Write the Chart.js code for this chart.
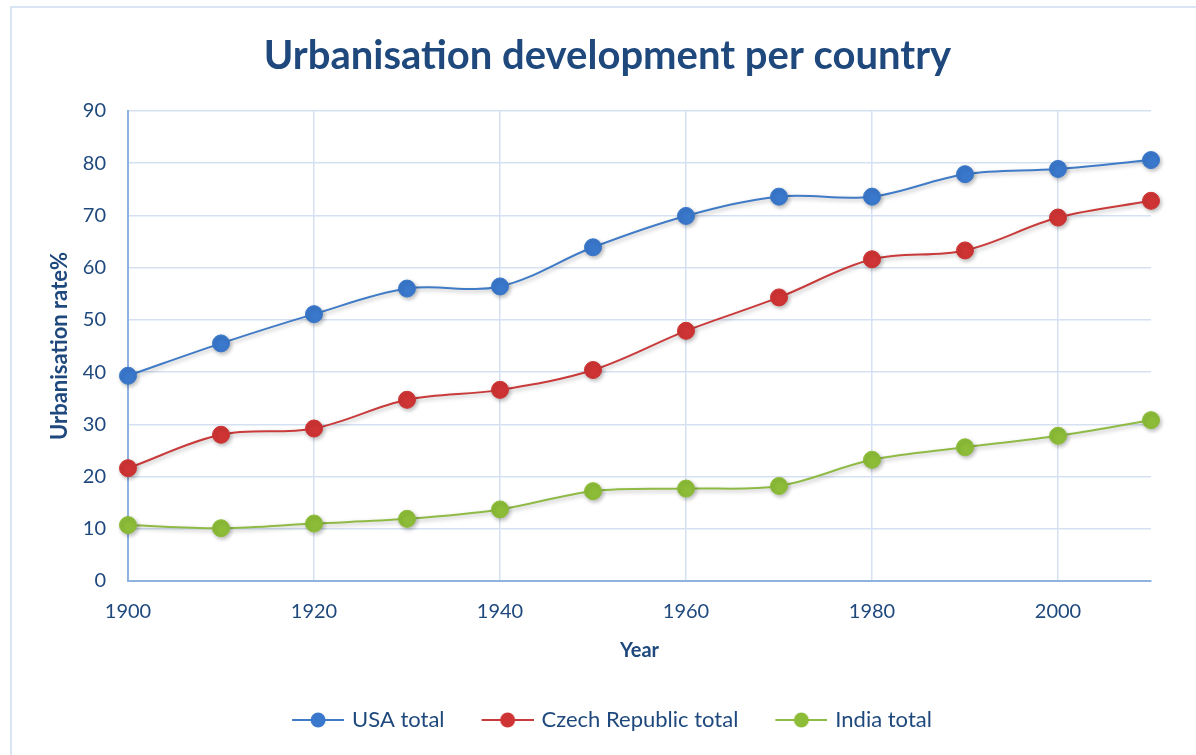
<!DOCTYPE html>
<html>
<head>
<meta charset="utf-8">
<script src="https://cdn.jsdelivr.net/npm/chart.js@4.4.0/dist/chart.umd.min.js"></script>
<style>
  html, body { margin: 0; padding: 0; background: #fff; }
  #wrap { position: relative; width: 1196px; height: 755px; overflow: hidden; }
  #frame { position: absolute; left: 10px; top: 6px; right: -10px; bottom: -10px;
           border-left: 2px solid #d9e4f4; border-top: 2px solid #d9e4f4; }
  canvas { position: absolute; left: 0; top: 0; }
</style>
</head>
<body>
<div id="wrap">
  <div id="frame"></div>
  <canvas id="c" width="1196" height="755"></canvas>
</div>
<script>
const years = [1900, 1910, 1920, 1930, 1940, 1950, 1960, 1970, 1980, 1990, 2000, 2010];
const usaTotal = [39.3, 45.5, 51.1, 56.0, 56.4, 63.9, 69.9, 73.6, 73.6, 77.9, 78.9, 80.6];
const czechTotal = [21.6, 28.0, 29.2, 34.7, 36.6, 40.4, 47.9, 54.3, 61.6, 63.3, 69.6, 72.8];
const indiaTotal = [10.7, 10.1, 11.0, 11.9, 13.7, 17.2, 17.7, 18.2, 23.2, 25.6, 27.8, 30.8];
const xTickValues = [1900, 1920, 1940, 1960, 1980, 2000];
const seriesNames = ['USA total', 'Czech Republic total', 'India total'];

const FONT = 'Lato, "Open Sans", sans-serif';
const TEXT = '#1F497D';
const GRID = '#d5e1f2';
const AXIS = '#8fb3e0';

const ICON_MARGIN = 12;
const ICON_LINE = 52;
const ICON_W = ICON_MARGIN + ICON_LINE;

function legendIcon(line, fill) {
  const c = document.createElement('canvas');
  c.width = ICON_W; c.height = 18;
  const g = c.getContext('2d');
  g.strokeStyle = line; g.lineWidth = 2;
  g.beginPath(); g.moveTo(ICON_MARGIN, 9); g.lineTo(ICON_W, 9); g.stroke();
  g.fillStyle = fill;
  g.beginPath(); g.arc(ICON_MARGIN + ICON_LINE / 2, 9, 7.5, 0, Math.PI * 2); g.fill();
  return c;
}

const styles = [
  { line: '#3f7bc6', fill: '#3a78cc' },
  { line: '#c93a3a', fill: '#cf3434' },
  { line: '#8fba45', fill: '#8dbd38' }
];
const seriesData = [usaTotal, czechTotal, indiaTotal];
const icons = styles.map(s => legendIcon(s.line, s.fill));

const datasets = seriesData.map((vals, i) => ({
  label: seriesNames[i],
  data: years.map((yr, j) => ({ x: yr, y: vals[j] })),
  borderColor: styles[i].line,
  backgroundColor: styles[i].fill,
  pointBackgroundColor: styles[i].fill,
  pointBorderColor: styles[i].fill,
  pointStyle: 'circle',
  pointRadius: 8.5,
  pointHoverRadius: 8.5,
  pointBorderWidth: 1,
  borderWidth: 2,
  tension: 0.35,
  clip: false
}));

const shadowPlugin = {
  id: 'softShadow',
  beforeDatasetsDraw(chart) {
    const ctx = chart.ctx;
    ctx.save();
    ctx.shadowColor = 'rgba(0,0,0,0.28)';
    ctx.shadowBlur = 4;
    ctx.shadowOffsetX = 1.5;
    ctx.shadowOffsetY = 2;
  },
  afterDatasetsDraw(chart) {
    chart.ctx.restore();
  }
};

new Chart(document.getElementById('c'), {
  type: 'line',
  data: { datasets },
  plugins: [shadowPlugin],
  options: {
    responsive: false,
    animation: false,
    devicePixelRatio: 1,
    layout: { padding: { left: 64, right: 45, top: 0, bottom: 14 } },
    plugins: {
      title: {
        display: true,
        text: 'Urbanisation development per country',
        color: TEXT,
        font: { family: FONT, size: 40, weight: 'bold' },
        padding: { top: 32, bottom: 31 }
      },
      legend: {
        position: 'bottom',
        labels: {
          usePointStyle: true,
          pointStyleWidth: ICON_W - 6,
          color: TEXT,
          font: { family: FONT, size: 22 },
          padding: 28,
          generateLabels: (chart) => chart.data.datasets.map((d, i) => ({
            text: d.label,
            fillStyle: d.backgroundColor,
            strokeStyle: d.borderColor,
            pointStyle: icons[i],
            lineWidth: 0,
            hidden: false,
            datasetIndex: i,
            fontColor: TEXT
          }))
        }
      },
      tooltip: { enabled: false }
    },
    scales: {
      x: {
        type: 'linear',
        min: 1900,
        max: 2010,
        afterBuildTicks: (s) => { s.ticks = xTickValues.map(v => ({ value: v })); },
        afterFit: (s) => { s.height = 100; },
        ticks: {
          color: TEXT,
          font: { family: FONT, size: 20 },
          padding: 19,
          maxRotation: 0,
          autoSkip: false,
          callback: (v) => String(v)
        },
        grid: { color: GRID, lineWidth: 1.5, drawTicks: false },
        border: { color: AXIS, width: 2 },
        title: {
          display: true, text: 'Year', color: TEXT,
          font: { family: FONT, size: 20, weight: 'bold' },
          padding: { top: 4, bottom: 18 }
        }
      },
      y: {
        min: 0,
        max: 90,
        afterFit: (s) => { s.width = 64; },
        ticks: {
          stepSize: 10,
          color: TEXT,
          font: { family: FONT, size: 20 },
          padding: 22
        },
        grid: { color: GRID, lineWidth: 1.5, drawTicks: false },
        border: { color: AXIS, width: 2 },
        title: {
          display: true, text: 'Urbanisation rate%', color: TEXT,
          font: { family: FONT, size: 22, weight: 'bold' },
          padding: { top: -17, bottom: 4 }
        }
      }
    }
  }
});
</script>
</body>
</html>
